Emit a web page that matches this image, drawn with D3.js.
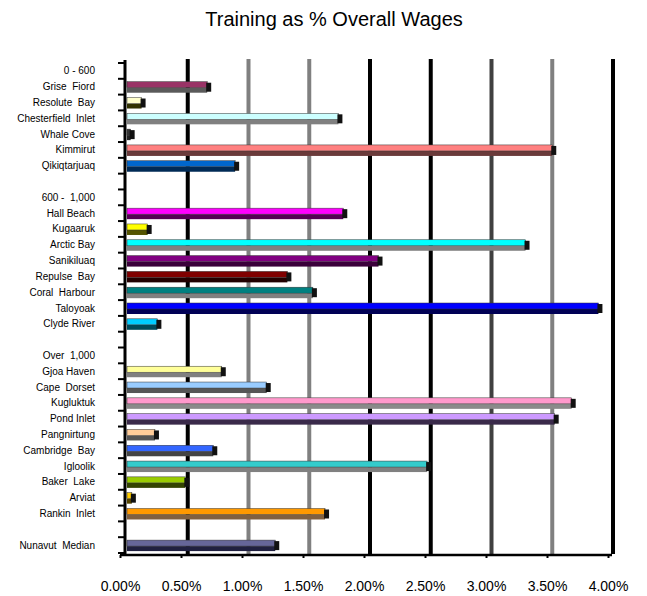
<!DOCTYPE html>
<html>
<head>
<meta charset="utf-8">
<script src="https://cdn.jsdelivr.net/npm/d3@7"></script>
<style>
    body { margin: 0; background: #fff; }
    text { font-family: "Liberation Sans", Arial, sans-serif; }
</style>
</head>
<body>
<svg id="chart" width="647" height="596"></svg>
<script>
// Rows top to bottom, "" is an empty spacer row
const labels = [
    "0 - 600", "Grise  Fiord", "Resolute  Bay", "Chesterfield  Inlet", "Whale Cove", "Kimmirut", "Qikiqtarjuaq", "",
    "600 -  1,000", "Hall Beach", "Kugaaruk", "Arctic Bay", "Sanikiluaq", "Repulse  Bay", "Coral  Harbour", "Taloyoak", "Clyde River", "",
    "Over  1,000", "Gjoa Haven", "Cape  Dorset", "Kugluktuk", "Pond Inlet", "Pangnirtung", "Cambridge  Bay", "Igloolik", "Baker  Lake", "Arviat", "Rankin  Inlet", "",
    "Nunavut  Median"
];
// training as % of overall wages (null = heading / spacer)
const values = [
    null, 0.66, 0.12, 1.74, 0.03, 3.50, 0.89, null,
    null, 1.78, 0.17, 3.28, 2.07, 1.32, 1.53, 3.88, 0.25, null,
    null, 0.78, 1.15, 3.66, 3.52, 0.23, 0.71, 2.47, 0.48, 0.04, 1.63, null,
    1.22
];
const barColors = [
    null, "#993366", "#ffffcc", "#ccffff", "#333333", "#ff8080", "#0066cc", null,
    null, "#ff00ff", "#ffff00", "#00ffff", "#800080", "#800000", "#008080", "#0000ff", "#00ccff", null,
    null, "#ffff99", "#99ccff", "#ff99cc", "#cc99ff", "#ffcc99", "#3366ff", "#33cccc", "#99cc00", "#ffcc00", "#ff9900", null,
    "#666699"
];
const sideColors = [
    null, "#5a5a5a", "#333300", "#808080", "#222222", "#6a3a3a", "#002a55", null,
    null, "#550055", "#555500", "#808080", "#3a003a", "#220000", "#808080", "#000055", "#004a5a", null,
    null, "#808080", "#555555", "#8a8a8a", "#3a2a4a", "#555555", "#444444", "#808080", "#334400", "#554400", "#806040", null,
    "#202040"
];
const tickValues = [0, 0.5, 1, 1.5, 2, 2.5, 3, 3.5, 4];
const gridColors = ["#000", "#808080", "#808080", "#000", "#000", "#404040", "#808080", "#000"];

/**************************************************************************************************/
/* Scales */
const svg = d3.select("#chart");

const x = d3.scaleLinear().domain([0, 4]).range([127, 613]);      // back wall (bars, gridlines)
const xFront = d3.scaleLinear().domain([0, 4]).range([120, 608]); // front edge (axis labels)
const y = d3.scaleBand().domain(d3.range(labels.length)).range([63, 553]).padding(0);
const mid = i => y(i) + y.bandwidth() / 2;

/**************************************************************************************************/
/* Title */
svg.append("text")
    .attr("x", 334)
    .attr("y", 26)
    .attr("text-anchor", "middle")
    .attr("font-size", 20)
    .text("Training as % Overall Wages");

/**************************************************************************************************/
/* Gridlines */
svg.append("g")
    .selectAll("line")
    .data(tickValues.slice(1))
    .join("line")
        .attr("x1", d => x(d))
        .attr("x2", d => x(d))
        .attr("y1", 59)
        .attr("y2", 554)
        .attr("stroke", (d, i) => gridColors[i])
        .attr("stroke-width", 4);

/**************************************************************************************************/
/* Bars */
const rows = d3.range(labels.length).filter(i => values[i] !== null);
const bars = svg.append("g");

bars.selectAll("rect.side")
    .data(rows)
    .join("rect")
        .attr("class", "side")
        .attr("x", x(0))
        .attr("y", i => mid(i) + 1)
        .attr("width", i => x(values[i]) - x(0))
        .attr("height", 5)
        .attr("fill", i => sideColors[i]);

bars.selectAll("rect.face")
    .data(rows)
    .join("rect")
        .attr("class", "face")
        .attr("x", x(0))
        .attr("y", i => mid(i) - 5)
        .attr("width", i => x(values[i]) - x(0))
        .attr("height", 6)
        .attr("fill", i => barColors[i])
        .attr("stroke", "#333")
        .attr("stroke-width", 0.5);

bars.selectAll("rect.cap")
    .data(rows)
    .join("rect")
        .attr("class", "cap")
        .attr("x", i => x(values[i]) - 1)
        .attr("y", i => mid(i) - 4)
        .attr("width", 5)
        .attr("height", 9)
        .attr("fill", "#111");

/**************************************************************************************************/
/* Axes */
const left = svg.append("g");
left.append("line")
    .attr("x1", 125).attr("x2", 125)
    .attr("y1", 60).attr("y2", 556)
    .attr("stroke", "#000")
    .attr("stroke-width", 3);
left.selectAll("line.tick")
    .data(d3.range(labels.length + 1))
    .join("line")
        .attr("class", "tick")
        .attr("x1", 118).attr("x2", 125)
        .attr("y1", i => 63 + i * y.bandwidth())
        .attr("y2", i => 63 + i * y.bandwidth())
        .attr("stroke", "#000")
        .attr("stroke-width", 2);

left.selectAll("text")
    .data(d3.range(labels.length))
    .join("text")
        .attr("x", 95)
        .attr("y", i => mid(i) + 3.5)
        .attr("text-anchor", "end")
        .attr("font-size", 10)
        .style("white-space", "pre")
        .text(i => labels[i]);

svg.append("line")
    .attr("x1", 120).attr("x2", 612)
    .attr("y1", 555).attr("y2", 555)
    .attr("stroke", "#000")
    .attr("stroke-width", 2.5);

const bottom = svg.append("g")
    .attr("transform", "translate(0,555)")
    .call(d3.axisBottom(xFront)
        .tickValues(tickValues)
        .tickFormat(d3.format(".2f"))
        .tickFormat(d => d.toFixed(2) + "%")
        .tickSize(3)
        .tickPadding(23));
bottom.select(".domain").remove();
bottom.selectAll("line").attr("stroke-width", 2);
bottom.selectAll("text")
    .attr("font-size", 14)
    .attr("font-family", "Liberation Sans, Arial, sans-serif");
</script>
</body>
</html>
